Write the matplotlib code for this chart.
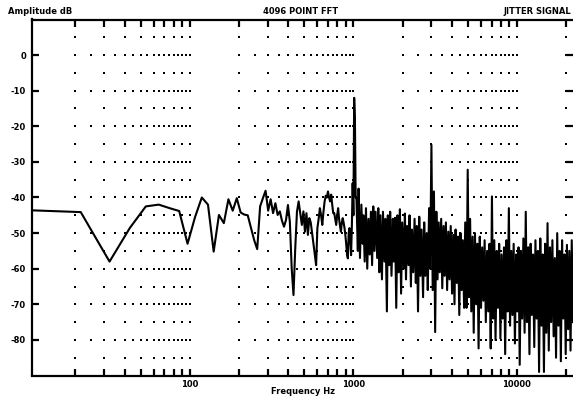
import numpy as np
import matplotlib
matplotlib.use('Agg')
import matplotlib.pyplot as plt
from matplotlib.ticker import FixedLocator, NullFormatter

FS = 44100
NFFT = 4096

# level of every bin from bin 1 up to just past the 1 kHz tone (dB)
lo_db = [
    -43.6, -44.1, -58.0, -48.5, -42.5, -42.0, -43.0, -43.8, -53.0, -45.5,
    -40.0, -42.0, -55.2, -44.9, -47.2, -40.5, -43.7, -40.2, -44.2, -44.8,
    -45.0, -48.6, -52.0, -54.5, -42.5, -40.2, -38.1, -43.7, -40.5, -44.4,
    -41.6, -44.9, -43.9, -46.5, -48.2, -46.3, -42.1, -46.8, -59.9, -67.4,
    -54.3, -44.0, -41.1, -44.4, -47.7, -43.9, -49.6, -44.4, -50.5, -45.8,
    -47.0, -50.0, -53.0, -56.0, -59.0, -48.6, -46.0, -43.0, -45.0, -47.7,
    -44.0, -41.1, -39.5, -40.0, -38.3, -40.0, -41.1, -39.2, -42.0, -44.4,
    -44.4, -46.0, -47.7, -45.0, -43.0, -46.0, -48.0, -49.6, -47.0, -45.8,
    -47.0, -48.5, -50.5, -53.0, -56.0, -57.1, -50.0, -48.6, -52.0, -56.2,
    -48.0, -36.0, -45.0, -12.0, -18.0, -40.0,
]

# levels above that, on bins spread evenly in log frequency up to Nyquist (dB)
hi_db = [
    -40.0, -55.0, -37.5, -57.0, -42.0, -53.0, -45.0, -58.0, -43.0, -60.0,
    -46.0, -56.0, -44.0, -59.0, -42.5, -55.0, -44.0, -57.0, -43.0, -61.0,
    -45.0, -63.0, -44.0, -58.0, -46.0, -72.0, -45.0, -59.0, -44.0, -62.0,
    -46.0, -58.0, -45.7, -71.0, -45.0, -61.0, -43.3, -67.0, -47.0, -60.0,
    -44.5, -63.0, -48.0, -59.0, -45.0, -65.0, -49.0, -61.0, -46.0, -64.0,
    -48.0, -72.0, -45.4, -62.0, -49.0, -68.0, -47.0, -62.0, -50.0, -66.0,
    -43.0, -60.0, -25.2, -66.0, -38.3, -77.8, -44.0, -63.0, -47.0, -61.0,
    -46.0, -65.5, -48.0, -62.0, -47.0, -66.0, -49.6, -63.0, -48.0, -67.0,
    -50.5, -70.0, -49.0, -64.0, -51.0, -73.0, -50.0, -66.0, -52.0, -71.0,
    -47.0, -71.0, -32.2, -68.0, -46.0, -72.0, -51.0, -78.0, -50.0, -70.0,
    -53.0, -82.4, -51.0, -71.0, -54.0, -69.0, -52.0, -75.0, -55.0, -72.0,
    -53.0, -82.4, -39.7, -74.0, -52.0, -80.0, -55.0, -71.0, -53.0, -79.6,
    -56.0, -74.0, -54.0, -84.0, -52.0, -72.0, -43.0, -76.0, -55.0, -73.0,
    -53.0, -81.0, -56.0, -72.0, -54.0, -87.0, -55.0, -74.0, -51.5, -78.0,
    -44.0, -75.0, -54.0, -84.0, -53.0, -73.0, -56.0, -82.0, -52.0, -74.0,
    -55.0, -89.0, -51.5, -76.0, -56.0, -89.0, -53.0, -78.0, -47.2, -83.0,
    -54.0, -75.0, -52.0, -79.0, -57.0, -85.0, -50.0, -76.0, -55.0, -86.0,
    -52.0, -74.0, -56.0, -84.0, -53.3, -77.0, -55.0, -83.0, -52.0, -75.0,
]

y_ticks = [0, -10, -20, -30, -40, -50, -60, -70, -80]
x_ticks = [100, 1000, 10000]
x_tick_labels = ['100', '1000', '10000']

bin_hz = FS / NFFT
lo_bins = np.arange(1, len(lo_db) + 1)
hi_bins = np.round(np.geomspace(len(lo_db) + 1, NFFT // 2 - 1, len(hi_db))).astype(int)
freqs = np.concatenate([lo_bins, hi_bins]) * bin_hz
levels = np.concatenate([lo_db, hi_db])

plt.rcParams['font.family'] = 'DejaVu Sans'
plt.rcParams['font.weight'] = 'bold'

fig = plt.figure(figsize=(5.73, 4.0), dpi=100)
ax = fig.add_axes([0.055, 0.06125, 0.945, 0.89])

ax.set_xscale('log')
ax.set_xlim(bin_hz, FS / 2)
ax.set_ylim(-90, 10)

# dotted grid: dense on the 10 dB lines, sparse on the 5 dB lines in between
decades = [10, 100, 1000, 10000]
for db in range(-85, 10, 5):
    mults = np.arange(2, 10.01, 0.5) if db % 10 == 0 else np.arange(2, 11)
    xs = [d * m for d in decades for m in mults if d * m <= FS / 2]
    ax.plot(xs, [db] * len(xs), ls='none', marker='s', ms=1.5, mew=0,
            color='black', zorder=1)

ax.plot(freqs, levels, color='black', lw=1.5, zorder=2)

for side in ['left', 'bottom', 'top']:
    ax.spines[side].set_linewidth(1.6)
ax.spines['right'].set_visible(False)

ax.xaxis.set_major_locator(FixedLocator(x_ticks))
ax.set_xticklabels(x_tick_labels)
minor = [d * m for d in decades for m in range(2, 10) if d * m <= FS / 2]
ax.xaxis.set_minor_locator(FixedLocator(minor))
ax.xaxis.set_minor_formatter(NullFormatter())
ax.set_yticks(y_ticks)
ax.set_yticklabels([str(v) for v in y_ticks])

ax.tick_params(which='both', direction='in', top=True, bottom=True,
               left=True, right=True, length=5, width=1.6, labelsize=6)
ax.tick_params(axis='x', pad=3)
ax.tick_params(axis='y', pad=4)

fig.text(8 / 573, 1 - 11 / 400, 'Amplitude dB', fontsize=6, va='center', ha='left')
fig.text(301 / 573, 1 - 11 / 400, '4096 POINT FFT', fontsize=6, va='center', ha='center')
fig.text(571 / 573, 1 - 11 / 400, 'JITTER SIGNAL', fontsize=6, va='center', ha='right')
fig.text(303 / 573, 1 - 392 / 400, 'Frequency Hz', fontsize=6, va='center', ha='center')

fig.savefig('out.png', dpi=100)
